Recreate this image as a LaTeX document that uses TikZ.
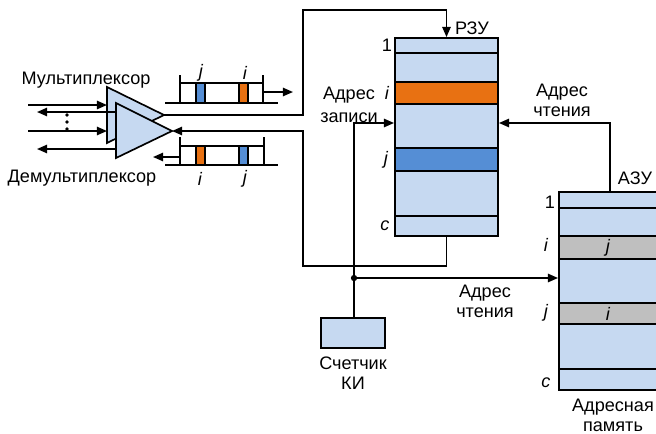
\documentclass[tikz,border=0pt]{standalone}
\usepackage{fontspec}
\setmainfont{Liberation Sans}
\usetikzlibrary{arrows.meta}

\definecolor{memfill}{RGB}{198,217,241}
\definecolor{roworange}{RGB}{232,113,18}
\definecolor{rowblue}{RGB}{85,142,213}
\definecolor{rowgray}{RGB}{191,191,191}

\begin{document}
\begin{tikzpicture}[x=0.02cm, y=-0.02cm,
		line width=0.95pt,
		every node/.style={font=\fontsize{10.3}{11.3}\selectfont, inner sep=0pt, align=center},
		arr/.style={-{Triangle[length=5.8pt,width=4.8pt]}},
		mem/.style={draw, line width=1.1pt, fill=memfill},
		idx/.style={font=\fontsize{10.3}{11.3}\selectfont\itshape}
	]
	\useasboundingbox (0,0) rectangle (656,433);
	\clip (0,0) rectangle (656,433);

	% memories and counter
	\node[mem, minimum width=2.06cm, minimum height=3.96cm] (rzu) at (446.5,137) {};
	\node[mem, minimum width=1.98cm, minimum height=3.96cm] (azu) at (608.5,291) {};
	\node[mem, minimum width=1.28cm, minimum height=0.6cm] (cnt) at (353,333) {};

	% rows of РЗУ
	\draw[line width=1.1pt] (395,53) -- (498,53);
	\draw[line width=1.1pt, fill=roworange] (395,82) rectangle (498,104);
	\draw[line width=1.1pt, fill=rowblue] (395,148) rectangle (498,171);
	\draw[line width=1.1pt] (395,216) -- (498,216);
	\node (rzu1) at (387,45) {1};
	\node[idx] (rzui) at (387,93) {i};
	\node[idx] (rzuj) at (386,160) {j};
	\node[idx] (rzuc) at (385,226) {c};
	\node (rzulbl) at (472,28) {РЗУ};

	% rows of АЗУ
	\draw[line width=1.1pt] (559,208) -- (660,208);
	\draw[line width=1.1pt, fill=rowgray] (559,236) rectangle (660,259);
	\draw[line width=1.1pt, fill=rowgray] (559,303) rectangle (660,324);
	\draw[line width=1.1pt] (559,369) -- (660,369);
	\node (azu1) at (550,202) {1};
	\node[idx] (azui) at (546,245) {i};
	\node[idx] (azuj) at (546,313) {j};
	\node[idx] (azuc) at (546,383) {c};
	\node[idx] (cellj) at (608,248) {j};
	\node[idx] (celli) at (608,314) {i};
	\node (azulbl) at (635,178) {АЗУ};
	\node (azuname) at (613,415) {Адресная\\память};
	\node (cntname) at (353,373) {Счетчик\\КИ};

	% multiplexer and demultiplexer
	\coordinate (muxtip) at (164,115);
	\coordinate (dmxtip) at (172,131);
	\draw[fill=memfill] (107,87) -- (107,143) -- (muxtip) -- cycle;
	\draw[arr] (28,105) -- (107,105);
	\draw[arr] (116,112) -- (37,112);
	\draw[arr] (28,131) -- (107,131);
	\draw[arr] (116,149) -- (37,149);
	\draw[fill=memfill] (116,103) -- (116,158) -- (dmxtip) -- cycle;
	\foreach \y in {115,122,129}
		\fill (67,\y) circle (1.1pt);
	\node (muxlbl) at (86,80) {Мультиплексор};
	\node (dmxlbl) at (82,178) {Демультиплексор};

	% output buffer
	\draw (180,75) -- (180,103);
	\draw (263,75) -- (263,103);
	\draw (180,83) -- (263,83);
	\draw (165,103) -- (278,103);
	\draw[fill=rowblue] (196,83) rectangle (205,103);
	\draw[fill=roworange] (239,83) rectangle (248,103);
	\draw[arr] (263,92) -- (293,92);
	\node[idx] (obj) at (201,73) {j};
	\node[idx] (obi) at (245,73) {i};

	% input buffer
	\draw (180,137) -- (180,165);
	\draw (264,137) -- (264,165);
	\draw (180,146) -- (264,146);
	\draw (165,165) -- (278,165);
	\draw[fill=roworange] (196,146) rectangle (205,165);
	\draw[fill=rowblue] (239,146) rectangle (248,165);
	\draw[arr] (180,157) -- (153,157);
	\node[idx] (ibi) at (200,179) {i};
	\node[idx] (ibj) at (245,179) {j};

	% connections
	\coordinate (upl) at (303,10);
	\coordinate (lowl) at (303,266);
	\draw[arr] (muxtip) -- (muxtip -| upl) -- (upl) -- (upl -| rzu.north) -- (rzu.north);
	\draw[arr] (rzu.south) |- (lowl) -- (lowl |- dmxtip) -- (dmxtip);

	\coordinate (jn) at (354,278);
	\coordinate (wa) at (354,123);
	\coordinate (ra) at (610,123);
	\draw[arr] (jn) -- (wa) -- (wa -| rzu.west);
	\draw[arr] (ra |- azu.north) -- (ra) -- (ra -| rzu.east);
	\draw[arr] (jn) -- (jn -| azu.west);
	\draw (jn) -- (jn |- cnt.north);
	\fill (jn) circle (1.8pt);

	\node (wrlbl) at (349,105) {Адрес\\[1.5pt]записи};
	\node (rdlbl) at (562,100) {Адрес\\чтения};
	\node (rdlbl2) at (485,301) {Адрес\\чтения};
\end{tikzpicture}
\end{document}
